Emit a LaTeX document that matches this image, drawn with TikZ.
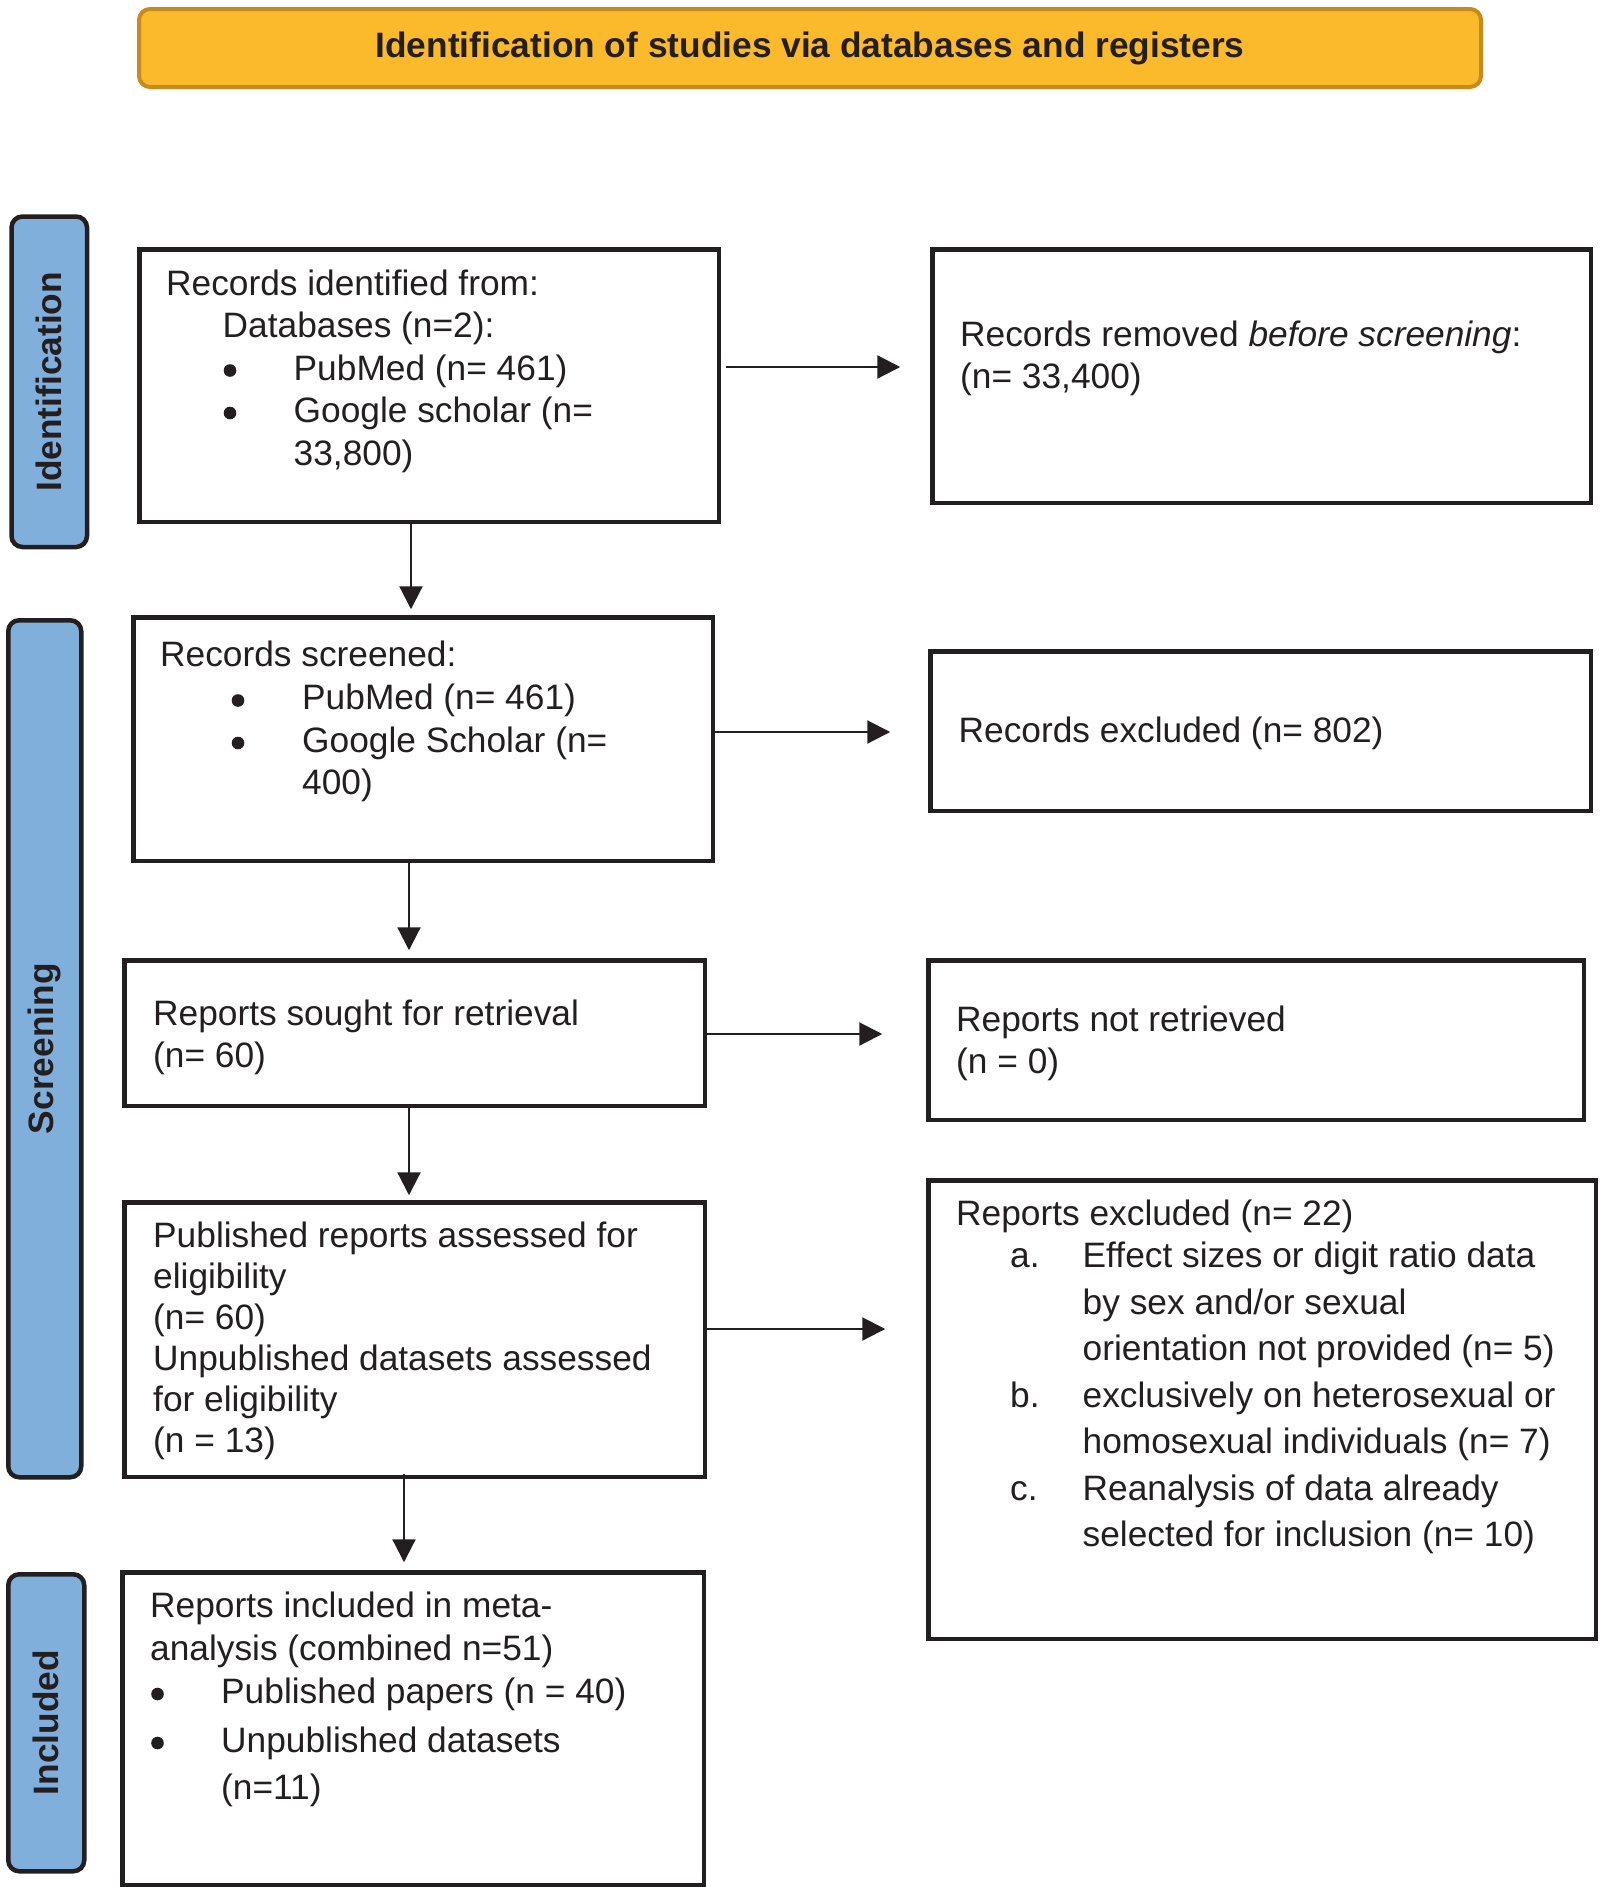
\documentclass[tikz,border=0pt]{standalone}
\usepackage{fontspec}
\setmainfont{Liberation Sans}
\usepackage{graphicx}
\usetikzlibrary{arrows.meta}
\definecolor{ink}{HTML}{231F20}
\definecolor{bannerfill}{HTML}{FBB92C}
\definecolor{bannerline}{HTML}{C8891E}
\definecolor{sidefill}{HTML}{80AFDC}
\newcommand{\lbitem}[4]{\makebox[#2][l]{\hspace*{#1}#3}#4}
\begin{document}
\begin{tikzpicture}[x=1pt,y=-1pt,
  box/.style={draw=ink, line width=4.5pt, fill=white, inner sep=0pt, anchor=north west},
  side/.style={draw=ink, line width=4.5pt, fill=sidefill, rounded corners=11pt, inner sep=0pt, anchor=north west,
    font=\fontsize{35.3}{42}\selectfont\bfseries, text=ink},
  banner/.style={draw=bannerline, line width=4pt, fill=bannerfill, rounded corners=11pt, inner sep=0pt, anchor=north west,
    font=\fontsize{35.3}{42}\selectfont\bfseries, text=ink},
  txt/.style={anchor=base west, inner sep=0pt, text=ink, font=\fontsize{35.3}{42.5}\selectfont},
  arr/.style={draw=ink, line width=2.2pt, -{Triangle[length=23pt,width=23pt]}},
  bul/.style={fill=ink}
]
\fill[white] (0,0) rectangle (1600,1887);
\useasboundingbox (0,0) rectangle (1600,1887);

% banner
\node[banner, minimum width=1342pt, minimum height=78pt] (ban) at (137,7) {\raisebox{-2.5pt}{Identification of studies via databases and registers}};

% side labels
\node[side, minimum width=75.5pt, minimum height=330.5pt] (sid) at (9.25,214.25) {\rotatebox{90}{Identification}};
\node[side, minimum width=73pt, minimum height=857pt] (ssc) at (6,618) {\rotatebox{90}{Screening}};
\node[side, minimum width=76pt, minimum height=297pt] (sin) at (6,1572) {\rotatebox{90}{Included}};

% boxes
\node[box, minimum width=579.5pt, minimum height=272.5pt] (b1) at (137.25,247.25) {};
\node[box, minimum width=658.5pt, minimum height=253.5pt] (r1) at (930.25,247.25) {};
\node[box, minimum width=579.5pt, minimum height=243.5pt] (b2) at (131.25,615.25) {};
\node[box, minimum width=660.5pt, minimum height=159.5pt] (r2) at (928.25,649.25) {};
\node[box, minimum width=580.5pt, minimum height=145.5pt] (b3) at (122.25,958.25) {};
\node[box, minimum width=655.5pt, minimum height=159.5pt] (r3) at (926.25,958.25) {};
\node[box, minimum width=580.5pt, minimum height=274.5pt] (b4) at (122.25,1200.25) {};
\node[box, minimum width=667.5pt, minimum height=458.5pt] (r4) at (926.25,1178.25) {};
\node[box, minimum width=581.5pt, minimum height=312.5pt] (b5) at (120.25,1570.25) {};

% texts
\node[txt] (t1) at (166,295) {\parbox[t]{540pt}{\raggedright
Records identified from:\\
\hspace*{56.5pt}Databases (n=2):\\
\hspace*{127.5pt}PubMed (n= 461)\\
\hspace*{127.5pt}Google scholar (n=\\
\hspace*{127.5pt}33,800)}};

\node[txt] (tr1) at (960,346) {\parbox[t]{620pt}{\raggedright
Records removed \textit{before screening}:\\
(n= 33,400)}};

\node[txt] (t2) at (160,666) {\parbox[t]{540pt}{\raggedright
Records screened:\\[1pt]
\hspace*{142pt}PubMed (n= 461)\\
\hspace*{142pt}Google Scholar (n=\\
\hspace*{142pt}400)}};

\node[txt] (tr2) at (958.5,742) {Records excluded (n= 802)};

\node[txt] (t3) at (153,1025) {\parbox[t]{540pt}{\raggedright
Reports sought for retrieval\\
(n= 60)}};

\node[txt] (tr3) at (956,1031) {\parbox[t]{620pt}{\raggedright
Reports not retrieved\\
(n = 0)}};

\node[txt] (t4) at (153,1247) {\parbox[t]{540pt}{\raggedright\fontsize{35.3}{41}\selectfont
Published reports assessed for\\
eligibility\\
(n= 60)\\
Unpublished datasets assessed\\
for eligibility\\
(n = 13)}};

\node[txt] (tr4) at (956,1225.5) {\parbox[t]{640pt}{\raggedright\fontsize{35.3}{46.5}\selectfont
Reports excluded (n= 22)\\[-4.5pt]
\lbitem{54pt}{126.5pt}{a.}{Effect sizes or digit ratio data}\\
\hspace*{126.5pt}by sex and/or sexual\\
\hspace*{126.5pt}orientation not provided (n= 5)\\
\lbitem{54pt}{126.5pt}{b.}{exclusively on heterosexual or}\\
\hspace*{126.5pt}homosexual individuals (n= 7)\\
\lbitem{54pt}{126.5pt}{c.}{Reanalysis of data already}\\
\hspace*{126.5pt}selected for inclusion (n= 10)}};

\node[txt] (t5) at (150,1617.6) {\parbox[t]{540pt}{\raggedright
Reports included in meta-\\
analysis (combined n=51)\\[1pt]
\hspace*{71pt}Published papers (n = 40)\\[6.5pt]
\hspace*{71pt}Unpublished datasets\\[4.5pt]
\hspace*{71pt}(n=11)}};

% list bullets
\fill[bul] (230,370.5) circle (6.3);
\fill[bul] (230,413) circle (6.3);
\fill[bul] (238,700.5) circle (6.3);
\fill[bul] (238,743) circle (6.3);
\fill[bul] (157.5,1694) circle (6.3);
\fill[bul] (157.5,1743) circle (6.3);

% connector guides
\coordinate (h1) at (0,367);
\coordinate (h2) at (0,732);
\coordinate (h3) at (0,1034);
\coordinate (h4) at (0,1329);
\coordinate (v1) at (411,0);
\coordinate (v2) at (409,0);
\coordinate (v3) at (409,0);
\coordinate (v4) at (404,0);

% horizontal arrows
\draw[arr, shorten <=5pt, shorten >=30pt] (b1.east |- h1) -- (r1.west |- h1);
\draw[arr, shorten >=38pt] (b2.east |- h2) -- (r2.west |- h2);
\draw[arr, shorten >=44pt] (b3.east |- h3) -- (r3.west |- h3);
\draw[arr, shorten >=41pt] (b4.east |- h4) -- (r4.west |- h4);

% vertical arrows
\draw[arr, shorten >=6pt] (b1.south -| v1) -- (b2.north -| v1);
\draw[arr, shorten >=8pt] (b2.south -| v2) -- (b3.north -| v2);
\draw[arr, shorten >=5pt] (b3.south -| v3) -- (b4.north -| v3);
\draw[arr, shorten <=-5pt, shorten >=8pt] (b4.south -| v4) -- (b5.north -| v4);
\end{tikzpicture}
\end{document}
